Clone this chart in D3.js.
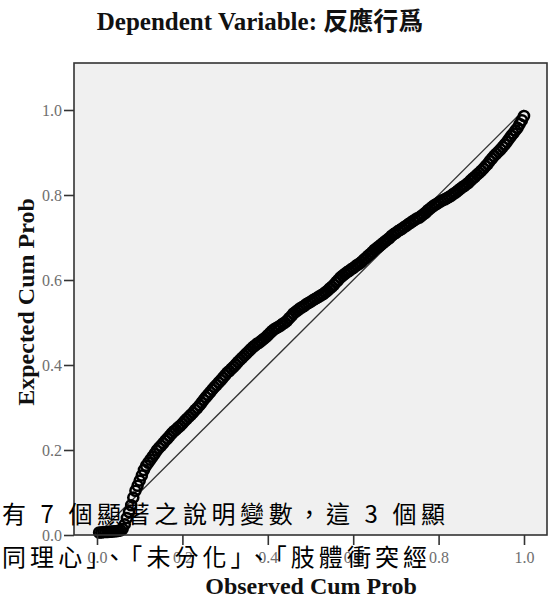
<!DOCTYPE html>
<html>
<head>
<meta charset="utf-8">
<script src="https://cdn.jsdelivr.net/npm/d3@7"></script>
<style>
  html, body { margin: 0; padding: 0; background: #ffffff; }
  svg { display: block; }
</style>
</head>
<body>
<svg id="chart" width="553" height="599"></svg>
<script>
// Normal P-P plot of regression standardized residuals
const titleText = "Dependent Variable: 反應行爲";
const xLabelText = "Observed Cum Prob";
const yLabelText = "Expected Cum Prob";
const tickValues = [0, 0.2, 0.4, 0.6, 0.8, 1.0];
const tickLabels = ["0.0", "0.2", "0.4", "0.6", "0.8", "1.0"];

const observedCumProb = [
  0.005, 0.010, 0.015, 0.020, 0.025, 0.030, 0.035, 0.040, 0.045, 0.050,
  0.055, 0.060, 0.065, 0.070, 0.075, 0.080, 0.085, 0.090, 0.095, 0.100,
  0.105, 0.110, 0.115, 0.120, 0.125, 0.130, 0.135, 0.140, 0.145, 0.150,
  0.155, 0.160, 0.165, 0.170, 0.175, 0.180, 0.185, 0.190, 0.195, 0.200,
  0.205, 0.210, 0.215, 0.220, 0.225, 0.230, 0.235, 0.240, 0.245, 0.250,
  0.255, 0.260, 0.265, 0.270, 0.275, 0.280, 0.285, 0.290, 0.295, 0.300,
  0.305, 0.310, 0.315, 0.320, 0.325, 0.330, 0.335, 0.340, 0.345, 0.350,
  0.355, 0.360, 0.365, 0.370, 0.375, 0.380, 0.385, 0.390, 0.395, 0.400,
  0.405, 0.410, 0.415, 0.420, 0.425, 0.430, 0.435, 0.440, 0.445, 0.450,
  0.455, 0.460, 0.465, 0.470, 0.475, 0.480, 0.485, 0.490, 0.495, 0.500,
  0.505, 0.510, 0.515, 0.520, 0.525, 0.530, 0.535, 0.540, 0.545, 0.550,
  0.555, 0.560, 0.565, 0.570, 0.575, 0.580, 0.585, 0.590, 0.595, 0.600,
  0.605, 0.610, 0.615, 0.620, 0.625, 0.630, 0.635, 0.640, 0.645, 0.650,
  0.655, 0.660, 0.665, 0.670, 0.675, 0.680, 0.685, 0.690, 0.695, 0.700,
  0.705, 0.710, 0.715, 0.720, 0.725, 0.730, 0.735, 0.740, 0.745, 0.750,
  0.755, 0.760, 0.765, 0.770, 0.775, 0.780, 0.785, 0.790, 0.795, 0.800,
  0.805, 0.810, 0.815, 0.820, 0.825, 0.830, 0.835, 0.840, 0.845, 0.850,
  0.855, 0.860, 0.865, 0.870, 0.875, 0.880, 0.885, 0.890, 0.895, 0.900,
  0.905, 0.910, 0.915, 0.920, 0.925, 0.930, 0.935, 0.940, 0.945, 0.950,
  0.955, 0.960, 0.965, 0.970, 0.975, 0.980, 0.985, 0.990, 0.995, 1.000
];

const expectedCumProb = [
  0.006, 0.006, 0.007, 0.007, 0.007, 0.008, 0.008, 0.009, 0.009, 0.010,
  0.011, 0.014, 0.025, 0.040, 0.054, 0.070, 0.088, 0.104, 0.116, 0.128,
  0.140, 0.153, 0.163, 0.170, 0.177, 0.184, 0.191, 0.199, 0.205, 0.210,
  0.216, 0.222, 0.227, 0.233, 0.239, 0.244, 0.248, 0.253, 0.257, 0.262,
  0.268, 0.273, 0.278, 0.283, 0.288, 0.294, 0.299, 0.305, 0.311, 0.318,
  0.324, 0.330, 0.336, 0.342, 0.348, 0.353, 0.359, 0.364, 0.370, 0.376,
  0.382, 0.386, 0.391, 0.396, 0.401, 0.407, 0.412, 0.417, 0.422, 0.427,
  0.432, 0.437, 0.442, 0.446, 0.450, 0.453, 0.457, 0.461, 0.465, 0.470,
  0.475, 0.480, 0.484, 0.487, 0.490, 0.493, 0.497, 0.500, 0.504, 0.510,
  0.515, 0.521, 0.525, 0.529, 0.533, 0.536, 0.539, 0.543, 0.546, 0.549,
  0.552, 0.555, 0.558, 0.561, 0.564, 0.567, 0.571, 0.575, 0.580, 0.584,
  0.589, 0.595, 0.600, 0.606, 0.610, 0.614, 0.618, 0.621, 0.625, 0.628,
  0.632, 0.636, 0.639, 0.643, 0.648, 0.652, 0.657, 0.661, 0.666, 0.671,
  0.675, 0.679, 0.683, 0.687, 0.691, 0.695, 0.699, 0.704, 0.708, 0.711,
  0.715, 0.718, 0.721, 0.725, 0.728, 0.732, 0.735, 0.739, 0.742, 0.745,
  0.747, 0.751, 0.755, 0.759, 0.764, 0.768, 0.772, 0.776, 0.779, 0.782,
  0.785, 0.788, 0.790, 0.793, 0.796, 0.799, 0.803, 0.806, 0.810, 0.814,
  0.818, 0.821, 0.825, 0.829, 0.834, 0.839, 0.843, 0.848, 0.852, 0.857,
  0.862, 0.868, 0.873, 0.880, 0.886, 0.892, 0.897, 0.902, 0.907, 0.913,
  0.919, 0.925, 0.932, 0.939, 0.945, 0.952, 0.958, 0.967, 0.976, 0.986
];

// Caption lines of the surrounding document text that sit over the chart
const noteLines = [
  "有 7 個顯著之說明變數，這 3 個顯",
  "同理心」、「未分化」、「肢體衝突經"
];

const svg = d3.select("#chart");
const W = 553, H = 599;
svg.append("rect").attr("width", W).attr("height", H).attr("fill", "#ffffff");

// Plot frame
const frame = { left: 74, top: 63, right: 547, bottom: 535 };

// Probability scales (0 and 1 sit inside the frame)
const x = d3.scaleLinear().domain([0, 1]).range([97, 524]);
const y = d3.scaleLinear().domain([0, 1]).range([535, 110]);

svg.append("rect")
  .attr("x", frame.left).attr("y", frame.top)
  .attr("width", frame.right - frame.left)
  .attr("height", frame.bottom - frame.top)
  .attr("fill", "#f0f0f0");

// Title
svg.append("text")
  .attr("x", 260).attr("y", 30)
  .attr("text-anchor", "middle")
  .attr("font-family", "'Liberation Serif', 'Noto Sans CJK TC', serif")
  .attr("font-weight", "bold")
  .attr("font-size", 25)
  .attr("fill", "#111")
  .text(titleText);

// Reference line y = x
const diag = [[0, 0], [1, 1]];
svg.append("path")
  .attr("d", d3.line().x(d => x(d[0])).y(d => y(d[1]))(diag))
  .attr("stroke", "#333")
  .attr("stroke-width", 1.3)
  .attr("fill", "none");

// Points
const pts = observedCumProb.map((o, i) => [o, expectedCumProb[i]]);
svg.append("g")
  .selectAll("circle")
  .data(pts)
  .join("circle")
  .attr("cx", d => x(d[0]))
  .attr("cy", d => y(d[1]))
  .attr("r", 5)
  .attr("fill", "none")
  .attr("stroke", "#000")
  .attr("stroke-width", 2.6);

// Frame border
svg.append("rect")
  .attr("x", frame.left).attr("y", frame.top)
  .attr("width", frame.right - frame.left)
  .attr("height", frame.bottom - frame.top)
  .attr("fill", "none")
  .attr("stroke", "#333")
  .attr("stroke-width", 1.6);

// Axes
const fmt = d => tickLabels[tickValues.indexOf(d)];
const yAxis = svg.append("g")
  .attr("transform", `translate(${frame.left},0)`)
  .call(d3.axisLeft(y).tickValues(tickValues).tickFormat(fmt).tickSize(10).tickPadding(2));
const xAxis = svg.append("g")
  .attr("transform", `translate(0,${frame.bottom})`)
  .call(d3.axisBottom(x).tickValues(tickValues).tickFormat(fmt).tickSize(10).tickPadding(7));

[yAxis, xAxis].forEach(g => {
  g.select(".domain").remove();
  g.selectAll(".tick line").attr("stroke", "#333").attr("stroke-width", 1.6);
  g.selectAll(".tick text")
    .attr("font-family", "'Liberation Serif', serif")
    .attr("font-size", 16)
    .attr("fill", "#6e6e6e");
});

// Axis titles
svg.append("text")
  .attr("x", 311).attr("y", 594)
  .attr("text-anchor", "middle")
  .attr("font-family", "'Liberation Serif', serif")
  .attr("font-weight", "bold")
  .attr("font-size", 24)
  .attr("fill", "#111")
  .text(xLabelText);

svg.append("text")
  .attr("transform", "translate(34,302) rotate(-90)")
  .attr("text-anchor", "middle")
  .attr("font-family", "'Liberation Serif', serif")
  .attr("font-weight", "bold")
  .attr("font-size", 24)
  .attr("fill", "#111")
  .text(yLabelText);

// Overlaid document text
const noteY = [523, 566];
const noteWidth = [443, 425];
noteLines.forEach((t, i) => {
  svg.append("text")
    .attr("x", 2).attr("y", noteY[i])
    .attr("font-family", "'Noto Sans CJK TC', sans-serif")
    .attr("font-size", 24)
    .attr("fill", "#000")
    .attr("textLength", noteWidth[i])
    .attr("lengthAdjust", "spacing")
    .text(t);
});
</script>
</body>
</html>
